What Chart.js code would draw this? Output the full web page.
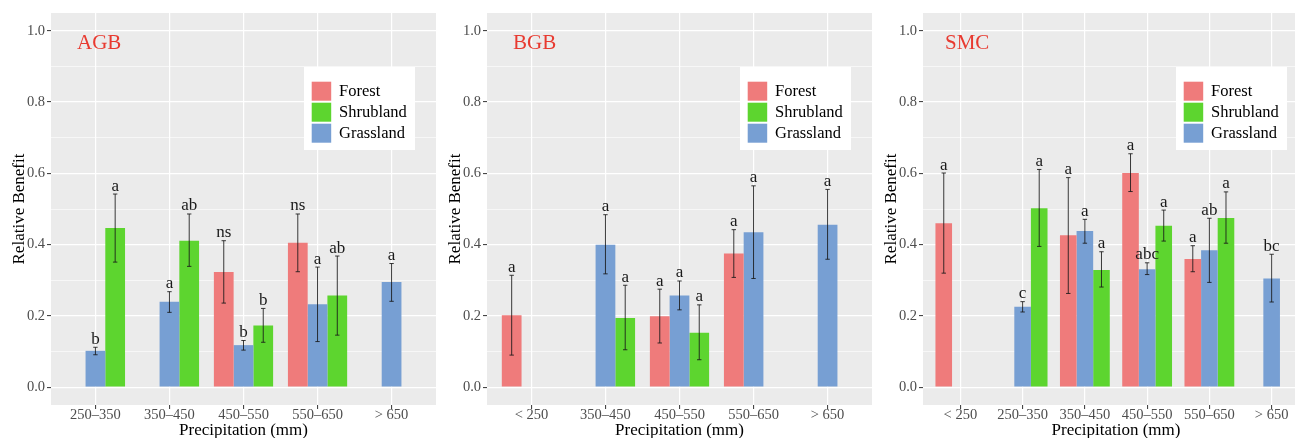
<!DOCTYPE html>
<html><head><meta charset="utf-8">
<script src="https://cdn.jsdelivr.net/npm/chart.js@4.4.1/dist/chart.umd.min.js"></script>
<style>
html,body{margin:0;padding:0;background:#fff;overflow:hidden;width:1295px;height:438px;}
#wrap{position:relative;width:1295px;height:438px;overflow:hidden;}
.panel{position:absolute;top:0;height:438px;}
canvas{display:block;}
</style></head><body>
<div id="wrap">
<div class="panel" style="left:0;width:436px"><canvas id="c1" width="436" height="438"></canvas></div>
<div class="panel" style="left:436px;width:436px"><canvas id="c2" width="436" height="438"></canvas></div>
<div class="panel" style="left:872px;width:437px"><canvas id="c3" width="437" height="438"></canvas></div>
</div>
<script>
// ---------- data ----------
const seriesNames = ['Forest', 'Grassland', 'Shrubland'];      // dodge order
const legendOrder = ['Forest', 'Shrubland', 'Grassland'];      // legend order
const seriesColors = { Forest: '#EF7B7B', Shrubland: '#5DD52F', Grassland: '#779FD3' };
const yTickValues = [0, 0.1, 0.2, 0.3, 0.4, 0.5, 0.6, 0.7, 0.8, 0.9, 1.0];

// AGB
const agbCategories = ['250–350', '350–450', '450–550', '550–650', '> 650'];
const agbForest     = [null, null, 0.323, 0.405, null];
const agbForestLo   = [null, null, 0.236, 0.324, null];
const agbForestHi   = [null, null, 0.411, 0.486, null];
const agbForestSig  = ['', '', 'ns', 'ns', ''];
const agbGrass      = [0.102, 0.240, 0.118, 0.233, 0.295];
const agbGrassLo    = [0.091, 0.210, 0.104, 0.128, 0.241];
const agbGrassHi    = [0.112, 0.268, 0.131, 0.337, 0.347];
const agbGrassSig   = ['b', 'a', 'b', 'a', 'a'];
const agbShrub      = [0.447, 0.411, 0.173, 0.257, null];
const agbShrubLo    = [0.351, 0.339, 0.126, 0.146, null];
const agbShrubHi    = [0.542, 0.486, 0.221, 0.368, null];
const agbShrubSig   = ['a', 'ab', 'b', 'ab', ''];

// BGB
const bgbCategories = ['< 250', '350–450', '450–550', '550–650', '> 650'];
const bgbForest     = [0.202, null, 0.199, 0.375, null];
const bgbForestLo   = [0.090, null, 0.124, 0.308, null];
const bgbForestHi   = [0.314, null, 0.275, 0.442, null];
const bgbForestSig  = ['a', '', 'a', 'a', ''];
const bgbGrass      = [null, 0.400, 0.257, 0.435, 0.456];
const bgbGrassLo    = [null, 0.318, 0.217, 0.305, 0.359];
const bgbGrassHi    = [null, 0.484, 0.298, 0.565, 0.555];
const bgbGrassSig   = ['', 'a', 'a', 'a', 'a'];
const bgbShrub      = [null, 0.194, 0.153, null, null];
const bgbShrubLo    = [null, 0.105, 0.077, null, null];
const bgbShrubHi    = [null, 0.286, 0.231, null, null];
const bgbShrubSig   = ['', 'a', 'a', '', ''];

// SMC
const smcCategories = ['< 250', '250–350', '350–450', '450–550', '550–650', '> 650'];
const smcForest     = [0.460, null, 0.426, 0.601, 0.360, null];
const smcForestLo   = [0.320, null, 0.263, 0.549, 0.324, null];
const smcForestHi   = [0.601, null, 0.588, 0.655, 0.397, null];
const smcForestSig  = ['a', '', 'a', 'a', 'a', ''];
const smcGrass      = [null, 0.226, 0.438, 0.331, 0.384, 0.305];
const smcGrassLo    = [null, 0.211, 0.404, 0.316, 0.294, 0.239];
const smcGrassHi    = [null, 0.240, 0.471, 0.349, 0.474, 0.373];
const smcGrassSig   = ['', 'c', 'a', 'abc', 'ab', 'bc'];
const smcShrub      = [null, 0.502, 0.329, 0.453, 0.475, null];
const smcShrubLo    = [null, 0.395, 0.281, 0.410, 0.404, null];
const smcShrubHi    = [null, 0.611, 0.380, 0.497, 0.548, null];
const smcShrubSig   = ['', 'a', 'a', 'a', 'a', ''];

// ---------- drawing ----------
const SERIF = '"Liberation Serif", "Times New Roman", serif';

function isMajor(v) { return Math.abs(Math.round(v * 10)) % 2 === 0; }

const decoPlugin = {
  id: 'deco',
  beforeDraw(chart) {
    const { ctx, chartArea: a } = chart;
    ctx.save();
    ctx.fillStyle = '#EBEBEB';
    ctx.fillRect(a.left, a.top, a.right - a.left, a.bottom - a.top);
    ctx.restore();
  },
  afterDatasetsDraw(chart) {
    const { ctx } = chart;
    const ys = chart.scales.y;
    chart.data.datasets.forEach((ds, di) => {
      const meta = chart.getDatasetMeta(di);
      ds.lo.forEach((lo, i) => {
        if (lo == null) return;
        const el = meta.data[i];
        const x = el.x;
        const yl = ys.getPixelForValue(lo);
        const yh = ys.getPixelForValue(ds.hi[i]);
        ctx.save();
        ctx.strokeStyle = 'rgba(25,25,25,0.85)';
        ctx.lineWidth = 1;
        ctx.beginPath();
        ctx.moveTo(x, yl); ctx.lineTo(x, yh);
        ctx.moveTo(x - 2.2, yl); ctx.lineTo(x + 2.2, yl);
        ctx.moveTo(x - 2.2, yh); ctx.lineTo(x + 2.2, yh);
        ctx.stroke();
        if (ds.sig[i]) {
          ctx.fillStyle = '#1A1A1A';
          ctx.font = '17px ' + SERIF;
          ctx.textAlign = 'center';
          ctx.textBaseline = 'alphabetic';
          ctx.fillText(ds.sig[i], x, yh - 3.5);
        }
        ctx.restore();
      });
    });
  },
  afterDraw(chart, args, opts) {
    const { ctx, chartArea: a } = chart;
    ctx.save();
    // panel title
    ctx.fillStyle = '#E83A30';
    ctx.font = '21px ' + SERIF;
    ctx.textAlign = 'left';
    ctx.textBaseline = 'alphabetic';
    ctx.fillText(opts.title, a.left + opts.titleOffset, 48.5);
    // legend
    const bx = a.left + 253, by = 67, bw = 111, bh = 83;
    ctx.fillStyle = '#FFFFFF';
    ctx.fillRect(bx, by, bw, bh);
    ctx.font = '16.5px ' + SERIF;
    ctx.textBaseline = 'middle';
    legendOrder.forEach((name, k) => {
      const ry = by + 14.7 + k * 21;
      ctx.fillStyle = seriesColors[name];
      ctx.fillRect(bx + 7.7, ry, 19.5, 19);
      ctx.fillStyle = '#000000';
      ctx.fillText(name, bx + 35, ry + 9.5);
    });
    ctx.restore();
  }
};

function makeChart(id, cats, title, titleOffset, vals, los, his, sigs) {
  const datasets = seriesNames.map((name, s) => ({
    label: name,
    data: cats.map((c, i) => ({ x: i, y: vals[s][i] })),
    lo: los[s], hi: his[s], sig: sigs[s],
    backgroundColor: seriesColors[name],
    borderWidth: 0,
    categoryPercentage: 0.8,
    barPercentage: 1.0
  }));
  return new Chart(document.getElementById(id), {
    type: 'bar',
    data: { datasets },
    plugins: [decoPlugin],
    options: {
      responsive: false,
      devicePixelRatio: 1,
      animation: false,
      events: [],
      layout: { padding: { top: 13, left: 0, right: 0, bottom: 0 } },
      plugins: {
        legend: { display: false },
        tooltip: { enabled: false },
        deco: { title, titleOffset }
      },
      scales: {
        x: {
          type: 'linear',
          min: -0.6,
          max: cats.length - 0.4,
          offset: false,
          afterBuildTicks: (s) => { s.ticks = cats.map((c, i) => ({ value: i })); },
          afterFit: (s) => { s.height = 33; },
          ticks: {
            autoSkip: false, maxRotation: 0, minRotation: 0,
            padding: -3,
            color: '#4D4D4D',
            font: { family: SERIF, size: 14.5 },
            callback: (v) => cats[Math.round(v)] ?? ''
          },
          grid: {
            offset: false,
            color: '#FFFFFF', lineWidth: 1.2,
            drawTicks: true, tickLength: 4, tickColor: '#333333', tickWidth: 1
          },
          border: { display: false },
          title: {
            display: true, text: 'Precipitation (mm)', color: '#000000',
            font: { family: SERIF, size: 17 }, padding: { top: 0, bottom: -3 }
          }
        },
        y: {
          type: 'linear',
          min: -0.05, max: 1.05,
          afterBuildTicks: (s) => { s.ticks = yTickValues.map(v => ({ value: v })); },
          afterFit: (s) => { s.width = 51; },
          ticks: {
            padding: 2,
            color: '#4D4D4D',
            font: { family: SERIF, size: 14.5 },
            callback: (v) => isMajor(v) ? v.toFixed(1) : ''
          },
          grid: {
            color: '#FFFFFF',
            lineWidth: (c) => (c.tick && isMajor(c.tick.value)) ? 1.2 : 0.6,
            drawTicks: true, tickLength: 4,
            tickColor: (c) => (c.tick && isMajor(c.tick.value)) ? '#333333' : 'rgba(0,0,0,0)',
            tickWidth: 1
          },
          border: { display: false },
          title: {
            display: true, text: 'Relative Benefit', color: '#000000',
            font: { family: SERIF, size: 17 }, padding: { top: 9, bottom: 0 }
          }
        }
      }
    }
  });
}

makeChart('c1', agbCategories, 'AGB', 26,
  [agbForest, agbGrass, agbShrub], [agbForestLo, agbGrassLo, agbShrubLo],
  [agbForestHi, agbGrassHi, agbShrubHi], [agbForestSig, agbGrassSig, agbShrubSig]);
makeChart('c2', bgbCategories, 'BGB', 26,
  [bgbForest, bgbGrass, bgbShrub], [bgbForestLo, bgbGrassLo, bgbShrubLo],
  [bgbForestHi, bgbGrassHi, bgbShrubHi], [bgbForestSig, bgbGrassSig, bgbShrubSig]);
makeChart('c3', smcCategories, 'SMC', 22,
  [smcForest, smcGrass, smcShrub], [smcForestLo, smcGrassLo, smcShrubLo],
  [smcForestHi, smcGrassHi, smcShrubHi], [smcForestSig, smcGrassSig, smcShrubSig]);
</script>
</body></html>
